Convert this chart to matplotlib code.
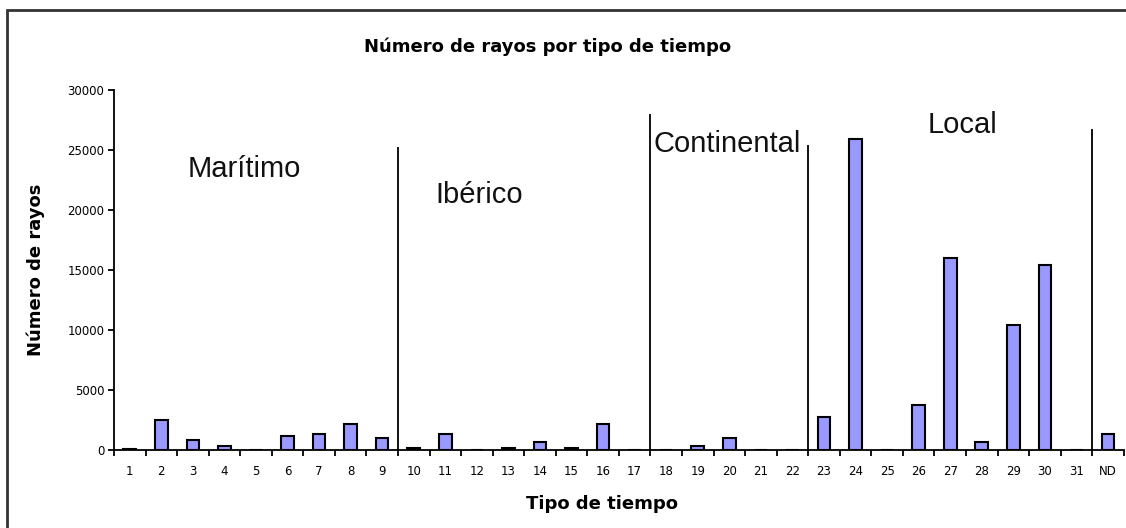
import matplotlib.pyplot as plt
from matplotlib.patches import Rectangle
from matplotlib.ticker import FixedLocator

# Weather-type categories and lightning counts
tipos = [str(i) for i in range(1, 32)] + ['ND']
rayos = [100, 2500, 850, 350, 0, 1150, 1350, 2150, 1000,
         150, 1350, 0, 150, 700, 150, 2150, 0,
         0, 350, 1000, 0, 0,
         2750, 25900, 0, 3750, 16000, 650, 10400, 15450, 0,
         1350]

# Group separators (between categories) and their heights
sep_x = [9.5, 17.5, 22.5, 31.5]
sep_top = [25200, 27900, 25300, 26700]

# Group names with their anchor point (left, baseline)
grupos = ['Marítimo', 'Ibérico', 'Continental', 'Local']
grupos_x = [2.85, 10.69, 17.61, 26.28]
grupos_y = [22750, 20580, 24830, 26420]

fig = plt.figure(figsize=(11.26, 5.28), dpi=100)
ax = fig.add_axes([0.1012, 0.1477, 0.8968, 0.6818])

pos = list(range(1, len(tipos) + 1))
ax.bar(pos, rayos, width=0.40, color='#9999ff', edgecolor='black', linewidth=1.5, zorder=3)

ax.set_xlim(0.5, len(tipos) + 0.5)
ax.set_ylim(0, 30000)
ax.set_yticks(range(0, 30001, 5000))
ax.set_xticks(pos)
ax.set_xticklabels(tipos)
ax.xaxis.set_minor_locator(FixedLocator([p + 0.5 for p in range(0, len(tipos) + 1)]))
ax.tick_params(axis='x', which='major', length=0, pad=11, labelsize=8.5)
ax.tick_params(axis='x', which='minor', length=4, width=1.3, direction='out')
ax.tick_params(axis='y', length=4, width=1.3, labelsize=8.5, pad=3)

for side in ['top', 'right']:
    ax.spines[side].set_visible(False)
for side in ['left', 'bottom']:
    ax.spines[side].set_linewidth(1.3)

for x, top in zip(sep_x, sep_top):
    ax.plot([x, x], [0, top], color='#111111', linewidth=1.4, zorder=2, clip_on=False)

for name, x, y in zip(grupos, grupos_x, grupos_y):
    ax.text(x, y, name, fontsize=21, family='Liberation Sans', color='#111111',
            ha='left', va='baseline')

fig.text(0.486, 0.911, 'Número de rayos por tipo de tiempo', fontsize=13,
         fontweight='bold', ha='center', va='center')
ax.set_xlabel('Tipo de tiempo', fontsize=13, fontweight='bold')
ax.xaxis.set_label_coords(0.483, -0.125)
ax.set_ylabel('Número de rayos', fontsize=13, fontweight='bold', labelpad=16)

# Outer frame (only the top and left edges fall inside the image)
fig.patches.append(Rectangle((7.5 / 1126, -0.1), 1.2, 1.1 - 10 / 528,
                             transform=fig.transFigure, fill=False,
                             edgecolor='#333333', linewidth=2))

fig.savefig('out.png', dpi=100)
